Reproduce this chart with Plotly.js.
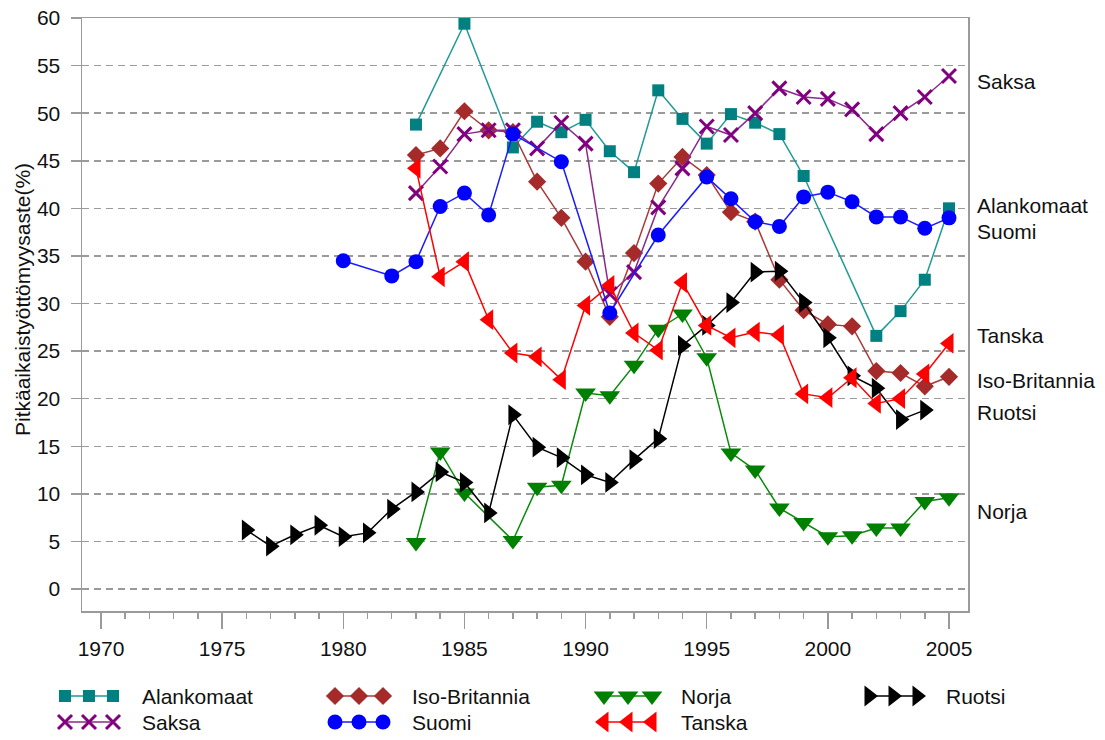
<!DOCTYPE html>
<html>
<head>
<meta charset="utf-8">
<script src="https://cdn.plot.ly/plotly-3.0.1.min.js"></script>
<style>html,body{margin:0;padding:0;background:#fff;}#chart{width:1105px;height:740px;}</style>
</head>
<body>
<div id="chart"></div>
<script>
// ---- data ----
const alankomaatYears = [1983,1985,1987,1988,1989,1990,1991,1992,1993,1994,1995,1996,1997,1998,1999,2002,2003,2004,2005];
const alankomaatValues = [48.8,59.4,46.4,49.1,48.0,49.3,46.0,43.8,52.4,49.4,46.8,49.9,49.0,47.8,43.4,26.6,29.2,32.5,40.0];

const saksaYears = [1983,1984,1985,1986,1987,1988,1989,1990,1991,1992,1993,1994,1995,1996,1997,1998,1999,2000,2001,2002,2003,2004,2005];
const saksaValues = [41.6,44.4,47.8,48.2,48.2,46.3,49.0,46.8,31.0,33.3,40.1,44.2,48.6,47.7,50.0,52.6,51.7,51.5,50.4,47.8,50.0,51.7,53.9];

const isoBritanniaYears = [1983,1984,1985,1986,1987,1988,1989,1990,1991,1992,1993,1994,1995,1996,1997,1998,1999,2000,2001,2002,2003,2004,2005];
const isoBritanniaValues = [45.6,46.3,50.2,48.2,48.0,42.8,39.0,34.4,28.6,35.3,42.6,45.4,43.5,39.6,38.6,32.5,29.3,27.8,27.6,22.9,22.7,21.3,22.3];

const suomiYears = [1980,1982,1983,1984,1985,1986,1987,1989,1991,1993,1995,1996,1997,1998,1999,2000,2001,2002,2003,2004,2005];
const suomiValues = [34.5,32.9,34.4,40.2,41.6,39.3,47.8,44.9,29.0,37.2,43.3,41.0,38.6,38.1,41.2,41.7,40.7,39.1,39.1,37.9,39.0];

const norjaYears = [1983,1984,1985,1987,1988,1989,1990,1991,1992,1993,1994,1995,1996,1997,1998,1999,2000,2001,2002,2003,2004,2005];
const norjaValues = [4.9,14.4,10.1,5.1,10.7,10.9,20.6,20.3,23.5,27.3,28.9,24.3,14.3,12.5,8.5,7.0,5.5,5.6,6.4,6.4,9.2,9.6];

const tanskaYears = [1983,1984,1985,1986,1987,1988,1989,1990,1991,1992,1993,1994,1995,1996,1997,1998,1999,2000,2001,2002,2003,2004,2005];
const tanskaValues = [44.2,32.8,34.4,28.3,24.8,24.4,22.0,29.8,31.9,26.9,25.1,32.2,27.7,26.4,27.0,26.7,20.5,20.1,22.2,19.5,20.0,22.6,25.8];

const ruotsiYears = [1976,1977,1978,1979,1980,1981,1982,1983,1984,1985,1986,1987,1988,1989,1990,1991,1992,1993,1994,1995,1996,1997,1998,1999,2000,2001,2002,2003,2004];
const ruotsiValues = [6.2,4.5,5.7,6.7,5.5,5.9,8.4,10.2,12.3,11.2,8.0,18.3,14.9,13.8,12.0,11.2,13.6,15.8,25.6,27.7,30.1,33.3,33.4,30.1,26.4,22.4,21.1,17.8,18.8];

const xTickYears = [1970,1975,1980,1985,1990,1995,2000,2005];
const yTicks = [0,5,10,15,20,25,30,35,40,45,50,55,60];
const yTitle = 'Pitkäaikaistyöttömyysaste(%)';

// end labels on the right: [text, value]
const endLabelNames = ['Saksa','Alankomaat','Suomi','Tanska','Iso-Britannia','Ruotsi','Norja'];
const endLabelValues = [53.3,40.3,37.6,26.6,21.9,18.5,8.1];

const legendRow1 = ['Alankomaat','Iso-Britannia','Norja','Ruotsi'];
const legendRow2 = ['Saksa','Suomi','Tanska'];

// ---- styles ----
const FONT = 'Liberation Sans, Arial, sans-serif';
const styles = {
  'Alankomaat':   {line:'#1f9a96', mc:'#008080', symbol:'square', size:12},
  'Saksa':        {line:'#8a2a8a', mc:'#800080', symbol:'x-thin', size:14, lw:3},
  'Iso-Britannia':{line:'#a83a3a', mc:'#a52a2a', symbol:'diamond', size:14},
  'Suomi':        {line:'#1a1aff', mc:'#0000ff', symbol:'circle', size:15},
  'Norja':        {line:'#0a8a0a', mc:'#008000', symbol:'triangle-down', size:18},
  'Ruotsi':       {line:'#000000', mc:'#000000', symbol:'triangle-right', size:18},
  'Tanska':       {line:'#ff0000', mc:'#ff0000', symbol:'triangle-left', size:18}
};
const series = {
  'Alankomaat':[alankomaatYears, alankomaatValues],
  'Iso-Britannia':[isoBritanniaYears, isoBritanniaValues],
  'Saksa':[saksaYears, saksaValues],
  'Suomi':[suomiYears, suomiValues],
  'Norja':[norjaYears, norjaValues],
  'Ruotsi':[ruotsiYears, ruotsiValues],
  'Tanska':[tanskaYears, tanskaValues]
};
function markerOf(s){
  const m = {symbol:s.symbol, size:s.size, color:s.mc};
  if (s.symbol === 'x-thin') m.line = {color:s.mc, width:s.lw};
  return m;
}

const traces = [];
Object.keys(series).forEach(name => {
  const s = styles[name];
  traces.push({
    type:'scatter', mode:'lines+markers', name:name,
    x:series[name][0], y:series[name][1],
    line:{color:s.line, width:1.5},
    marker:markerOf(s),
    showlegend:false, cliponaxis:false,
    xaxis:'x', yaxis:'y'
  });
});

// ---- custom legend (3 markers per entry) ----
const W = 1105, H = 740;
const legendColX = [65, 335, 604, 869];
const legendRowY = [696, 722];
const legendMarkerGap = 24;
const legendTextOffset = 75;
const annotations = [];
[legendRow1, legendRow2].forEach((row, ri) => {
  row.forEach((name, ci) => {
    const s = styles[name];
    const x0 = legendColX[ci];
    traces.push({
      type:'scatter', mode:'lines+markers', name:name,
      x:[x0, x0+legendMarkerGap, x0+2*legendMarkerGap],
      y:[legendRowY[ri], legendRowY[ri], legendRowY[ri]],
      line:{color:s.line, width:1.5},
      marker:markerOf(s),
      showlegend:false, cliponaxis:false, hoverinfo:'skip',
      xaxis:'x2', yaxis:'y2'
    });
    annotations.push({
      xref:'x2', yref:'y2', x:x0+legendTextOffset, y:legendRowY[ri],
      text:name, showarrow:false, xanchor:'left', yanchor:'middle',
      font:{family:FONT, size:21, color:'#111'}
    });
  });
});

// end labels
endLabelNames.forEach((t, i) => {
  annotations.push({
    xref:'paper', yref:'y', x:975/W, y:endLabelValues[i], text:t,
    showarrow:false, xanchor:'left', yanchor:'middle',
    font:{family:FONT, size:21, color:'#111'}
  });
});
// y title
annotations.push({
  xref:'paper', yref:'paper', x:22/W, y:1-300/H, text:yTitle, textangle:-90,
  showarrow:false, xanchor:'center', yanchor:'middle',
  font:{family:FONT, size:21, color:'#111'}
});

const gray = '#9a9a9a';
const layout = {
  width:W, height:H,
  margin:{l:0, r:0, t:0, b:0, pad:0},
  paper_bgcolor:'#ffffff', plot_bgcolor:'rgba(0,0,0,0)',
  showlegend:false,
  font:{family:FONT, size:21, color:'#111'},
  xaxis:{
    domain:[82/W, 968/W], range:[1969.216, 2005.784],
    tickmode:'array', tickvals:xTickYears, ticktext:xTickYears.map(String),
    ticks:'outside', ticklen:16, tickwidth:1.5, tickcolor:gray,
    ticklabelstandoff:2,
    minor:{dtick:1, tick0:1970, ticks:'outside', ticklen:6, tickwidth:1.5, tickcolor:gray, showgrid:false},
    showline:true, linecolor:gray, linewidth:1.5, mirror:true,
    showgrid:false, zeroline:false, fixedrange:true,
    tickfont:{family:FONT, size:21, color:'#111'}, anchor:'y'
  },
  yaxis:{
    domain:[1-611/H, 1-18/H], range:[-2.31, 60],
    tickmode:'array', tickvals:yTicks, ticktext:yTicks.map(String),
    ticks:'outside', ticklen:10, tickwidth:1.5, tickcolor:gray,
    ticklabelstandoff:6,
    showline:true, linecolor:gray, linewidth:1.5, mirror:true,
    showgrid:true, gridcolor:gray, gridwidth:1.5, griddash:'7px,5px',
    zeroline:false, fixedrange:true,
    tickfont:{family:FONT, size:21, color:'#111'}, anchor:'x'
  },
  xaxis2:{domain:[0,1], range:[0,W], visible:false, anchor:'y2', fixedrange:true},
  yaxis2:{domain:[0, 80/H], range:[740, 660], visible:false, anchor:'x2', fixedrange:true},
  annotations:annotations
};

Plotly.newPlot('chart', traces, layout, {displayModeBar:false, staticPlot:true});
</script>
</body>
</html>
